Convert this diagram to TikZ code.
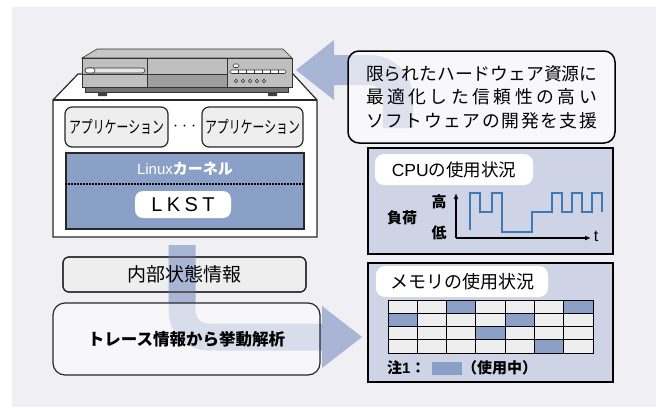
\documentclass[tikz,border=0pt]{standalone}
\usepackage{fontspec}
\setmainfont{Liberation Sans}
\newfontfamily\jp{Noto Sans CJK JP}
\usetikzlibrary{arrows.meta}
\definecolor{bgc}{RGB}{239,239,244}
\definecolor{bandc}{RGB}{169,181,212}
\definecolor{kernelc}{RGB}{138,160,198}
\definecolor{panelc}{RGB}{206,212,229}
\definecolor{lightg}{RGB}{238,238,238}
\definecolor{wavec}{RGB}{61,122,181}
\definecolor{edgec}{RGB}{40,40,40}
\newcommand\setsz[2]{\fontsize{#1pt}{#2pt}\selectfont}
% a line of text spread evenly over a fixed width
\newcommand\spreadline[1]{\makebox[231pt][s]{#1}}
\begin{document}
\begin{tikzpicture}[x=1pt,y=-1pt,
  edge/.style={draw=edgec,line width=1.2pt},
  rbox/.style={edge,rounded corners=#1,inner sep=0pt},
  rbox/.default=8pt,
  panel/.style={draw=black,line width=1.4pt,fill=panelc,inner sep=0pt},
  tag/.style={fill=white,rounded corners=9pt,inner sep=0pt},
  band/.style={draw=bandc,line width=#1},
  cell/.style={draw=black,line width=1pt,fill=lightg},
  used/.style={cell,fill=kernelc},
  device/.style={draw=black!80,line width=0.6pt}
]
\useasboundingbox (0,0) rectangle (656,407);
\fill[white] (0,0) rectangle (656,407);
\fill[bgc] (12,7) rectangle (656,407);

% ---- pedestal holding the software stack ----
\filldraw[edge,fill=white] (78,74) -- (293,74) -- (317,100) -- (317,237) -- (53,237) -- (53,100) -- cycle;
\draw[edge] (53,100) -- (317,100);

% ---- set-top device ----
\filldraw[device,fill=black!22] (97,49) -- (283,49) -- (292,58) -- (82,58) -- cycle;
\filldraw[device,fill=black!25] (82,58) rectangle (292,87);
\filldraw[device,fill=black!55] (85,87) rectangle (288,92);
\fill[black!75] (98,92) rectangle (107,96) (268,92) rectangle (277,96);
\draw[device] (147,58) -- (147,87) (227,58) -- (227,87) (82,74) -- (227,74);
\filldraw[device,fill=black!38] (147,74) rectangle (227,87);
\filldraw[device,fill=black!10,rounded corners=2.5pt] (85,68) rectangle (145,73);
\filldraw[device,fill=white,rounded corners=2.5pt] (85,68) rectangle (95,73);
\filldraw[device,fill=white,rounded corners=1.5pt] (233,64) rectangle (239,67.5);
\filldraw[device,fill=white,rounded corners=1.5pt] (230,70) rectangle (286,73.5);
\foreach \i in {238,246,254,262,270,278} \draw[device] (\i,70) -- (\i,73.5);
\foreach \i in {236,243,250,257,264} \draw[device] (\i,81) circle (1.7);

% ---- applications ----
\node[rbox=7pt,fill=lightg,minimum width=103pt,minimum height=40pt,font={\jp\setsz{17}{17}}] (app1) at (116.5,127)
  {\scalebox{0.7}[1]{アプリケーション}};
\node[rbox=7pt,fill=lightg,minimum width=101pt,minimum height=40pt,font={\jp\setsz{17}{17}}] (app2) at (252.5,127)
  {\scalebox{0.7}[1]{アプリケーション}};
\node[font={\jp\setsz{9}{9}}] (dots) at (184.5,127) {・・・};

% ---- kernel with LKST ----
\node[draw=edgec,line width=1.4pt,fill=kernelc,minimum width=238pt,minimum height=76pt,inner sep=0pt] (kernel) at (185,191) {};
\node[text=white,font={\setsz{15}{15}}] (ktitle) at (185,169) {Linux{\jp\bfseries カーネル}};
\draw[line width=1.6pt,dash pattern=on 1.6pt off 1.4pt] (kernel.west |- 0,184) -- (kernel.east |- 0,184);
\node[fill=white,rounded corners=8pt,minimum width=96pt,minimum height=27pt,inner sep=0pt,
  font={\addfontfeature{LetterSpace=22}\setsz{20}{20}}] (lkst) at (183,204.5) {LKST};

% ---- internal state box (under the lower band) ----
\node[rbox=6pt,fill=lightg,minimum width=243pt,minimum height=35pt] (state) at (184.5,274.5) {};

% ---- wide arrows ----
\coordinate (lowstart) at (182,245);
\coordinate (lowend) at (323,337);
\draw[band=27pt,rounded corners=26pt] (lowstart) |- (lowend);
\fill[bandc] (322,306) -- (362,337) -- (322,368) -- cycle;

\coordinate (topstart) at (398,128);
\coordinate (topend) at (334,70);
\draw[band=30pt,rounded corners=28pt] (topstart) |- (topend);
\fill[bandc] (334,40) -- (296,70) -- (334,100) -- cycle;

% ---- internal state box outline and text on top of the band ----
\node[rbox=6pt,minimum width=243pt,minimum height=35pt,font={\jp\setsz{19}{19}}] (statefront) at (184.5,274.5)
  {内部状態情報};

% ---- trace analysis box ----
\node[rbox=12pt,fill=white,fill opacity=0.55,text opacity=1,minimum width=267pt,minimum height=72pt,
  font={\jp\bfseries\setsz{16.5}{16.5}}] (trace) at (186.5,339)
  {トレース情報から挙動解析};

% ---- statement box ----
\node[rbox=11pt,line width=1.5pt,draw=black,fill=white,fill opacity=0.6,text opacity=1,minimum width=267pt,minimum height=92pt,
  align=center,font={\jp\setsz{17.8}{23.5}}] (goal) at (481.5,97)
  {\spreadline{限\hfil ら\hfil れ\hfil た\hfil ハ\hfil ー\hfil ド\hfil ウ\hfil ェ\hfil ア\hfil 資\hfil 源\hfil に}\\
   \spreadline{最\hfil 適\hfil 化\hfil し\hfil た\hfil 信\hfil 頼\hfil 性\hfil の\hfil 高\hfil い}\\
   \spreadline{ソ\hfil フ\hfil ト\hfil ウ\hfil ェ\hfil ア\hfil の\hfil 開\hfil 発\hfil を\hfil 支\hfil 援}};

% ---- CPU usage panel ----
\node[panel,minimum width=245pt,minimum height=106pt] (cpu) at (490.5,201) {};
\node[tag,minimum width=158pt,minimum height=31pt,font={\setsz{17.5}{17.5}}] (cputag) at (454,169.5)
  {CPU{\jp の使用状況}};
\coordinate (origin) at (456,238);
\coordinate (ytop) at (456,193);
\coordinate (xend) at (591,238);
\draw[line width=1.4pt,-{Latex[length=6pt,width=5pt]}] (origin) -- (ytop);
\draw[line width=1.4pt,-{Latex[length=6pt,width=5pt]}] (origin) -- (xend);
\node[font={\setsz{16}{16}}] (tlabel) at (596,236) {t};
\node[font={\jp\bfseries\setsz{15}{15}}] (hi) at (439,202) {高};
\node[font={\jp\bfseries\setsz{15}{15}}] (lo) at (439,233) {低};
\node[font={\jp\bfseries\setsz{15}{15}}] (load) at (402,218) {負荷};
\draw[wavec,line width=2.2pt] (470,230) -- (470,193) -- (480,193) -- (480,212) -- (492,212) -- (492,193)
  -- (502,193) -- (502,232) -- (532,232) -- (532,212) -- (552,212) -- (552,193) -- (562,193)
  -- (562,212) -- (572,212) -- (572,193) -- (582,193) -- (582,212) -- (592,212) -- (592,193)
  -- (602,193) -- (602,212);

% ---- memory usage panel ----
\node[panel,minimum width=245pt,minimum height=119pt] (mem) at (490.5,322.5) {};
\node[tag,minimum width=172pt,minimum height=31pt,font={\jp\setsz{18}{18}}] (memtag) at (462,281.5)
  {メモリの使用状況};
\foreach \r in {0,...,3} \foreach \c in {0,...,6}
  \draw[cell] ({388+\c*29.286},{300+\r*13.25}) rectangle ++(29.286,13.25);
\foreach \c/\r in {2/0,6/0,0/1,4/1,3/2,5/3}
  \draw[used] ({388+\c*29.286},{300+\r*13.25}) rectangle ++(29.286,13.25);
\node[anchor=west,inner sep=0pt,font={\jp\bfseries\setsz{15}{15}}] (note) at (387,368) {注\textrm{\bfseries 1}：};
\fill[kernelc] (432,362) rectangle (462,375);
\node[anchor=west,inner sep=0pt,font={\jp\bfseries\setsz{15}{15}}] (inuse) at (462,368) {（使用中）};
\end{tikzpicture}
\end{document}
